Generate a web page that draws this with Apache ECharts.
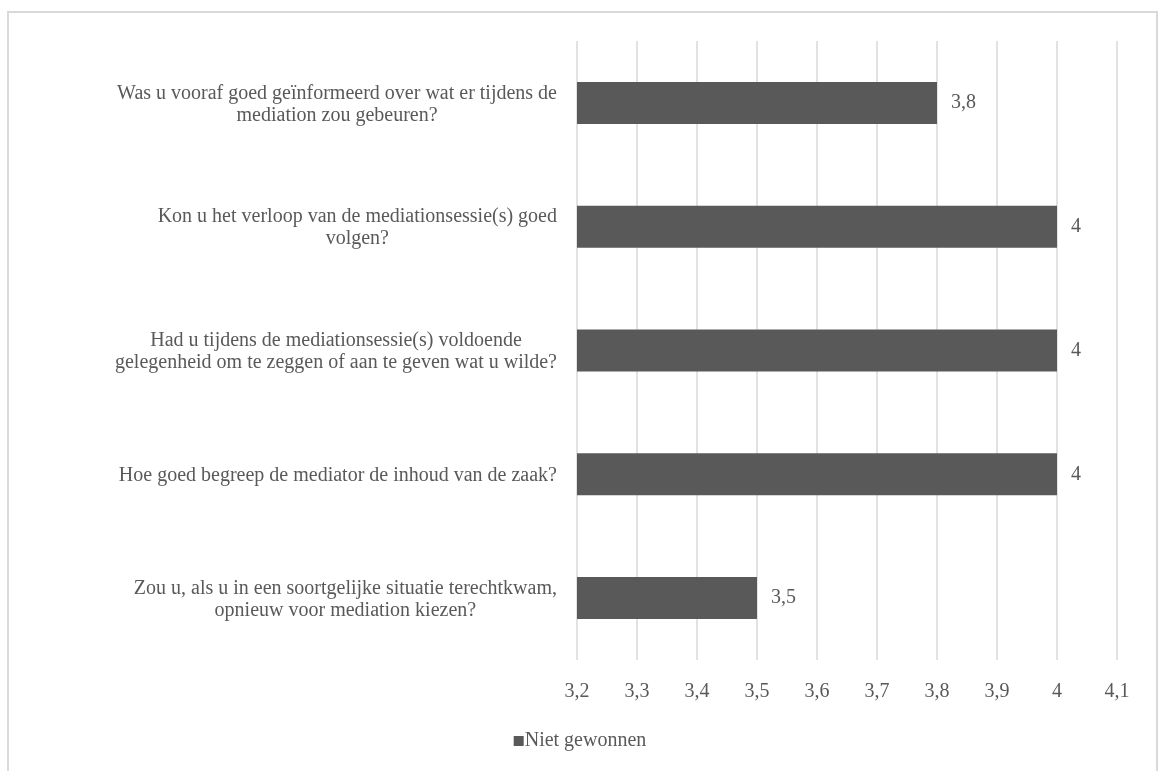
<!DOCTYPE html>
<html>
<head>
<meta charset="utf-8">
<script src="https://cdn.jsdelivr.net/npm/echarts@6/dist/echarts.min.js"></script>
<style>
  html, body { margin: 0; padding: 0; background: #fff; }
  #frame { position: absolute; left: 7px; top: 11px; width: 1151px; height: 780px; border: 2px solid #d9d9d9; box-sizing: border-box; }
  #chart { position: absolute; left: 0; top: 0; width: 1160px; height: 771px; }
</style>
</head>
<body>
<div id="frame"></div>
<div id="chart"></div>
<script>
// Survey questions (two lines each) and mean scores
const questions = [
  ['Was u vooraf goed geïnformeerd over wat er tijdens de', 'mediation zou gebeuren?'],
  ['Kon u het verloop van de mediationsessie(s) goed', 'volgen?'],
  ['Had u tijdens de mediationsessie(s) voldoende', 'gelegenheid om te zeggen of aan te geven wat u wilde?'],
  ['Hoe goed begreep de mediator de inhoud van de zaak?'],
  ['Zou u, als u in een soortgelijke situatie terechtkwam,', 'opnieuw voor mediation kiezen?']
];
const scores = [3.8, 4, 4, 4, 3.5];
const seriesName = 'Niet gewonnen';
const axisMin = 3.2;
const axisMax = 4.1;
const axisStep = 0.1;

const FONT = '"Liberation Serif", "Times New Roman", serif';
const TEXT = '#595959';
const SIZE = 20;
const fmt = v => String(Math.round(v * 10) / 10).replace('.', ',');

const chart = echarts.init(document.getElementById('chart'));
chart.setOption({
  animation: false,
  textStyle: { fontFamily: FONT },
  grid: { left: 577, right: 43, top: 41, bottom: 111, containLabel: false },
  xAxis: {
    type: 'value',
    min: axisMin,
    max: axisMax,
    interval: axisStep,
    axisLine: { show: false },
    axisTick: { show: false },
    splitLine: { show: true, lineStyle: { color: '#d9d9d9', width: 1.5 } },
    axisLabel: {
      color: TEXT, fontFamily: FONT, fontSize: SIZE, margin: 22,
      formatter: v => fmt(v)
    }
  },
  yAxis: {
    type: 'category',
    inverse: true,
    data: questions.map((q, i) => String(i)),
    axisLine: { show: false },
    axisTick: { show: false },
    axisLabel: {
      margin: 20,
      align: 'right',
      lineHeight: 22,
      padding: [3, 0, 0, 0],
      formatter: (v, i) => questions[i].map(l => '{c|' + l + '}').join('\n'),
      rich: {
        c: { align: 'center', color: TEXT, fontFamily: FONT, fontSize: SIZE, lineHeight: 22 }
      }
    }
  },
  legend: {
    bottom: 15,
    left: 'center',
    itemWidth: 10,
    itemHeight: 10,
    itemGap: 6,
    icon: 'rect',
    textStyle: { color: TEXT, fontFamily: FONT, fontSize: SIZE, padding: [0, 0, 0, -4] },
    data: [seriesName]
  },
  series: [{
    name: seriesName,
    type: 'bar',
    data: scores,
    barWidth: 42,
    itemStyle: { color: '#595959' },
    label: {
      show: true,
      position: 'right',
      distance: 14,
      padding: [3, 0, 0, 0],
      color: TEXT,
      fontFamily: FONT,
      fontSize: SIZE,
      formatter: p => fmt(p.value)
    }
  }]
});
</script>
</body>
</html>
